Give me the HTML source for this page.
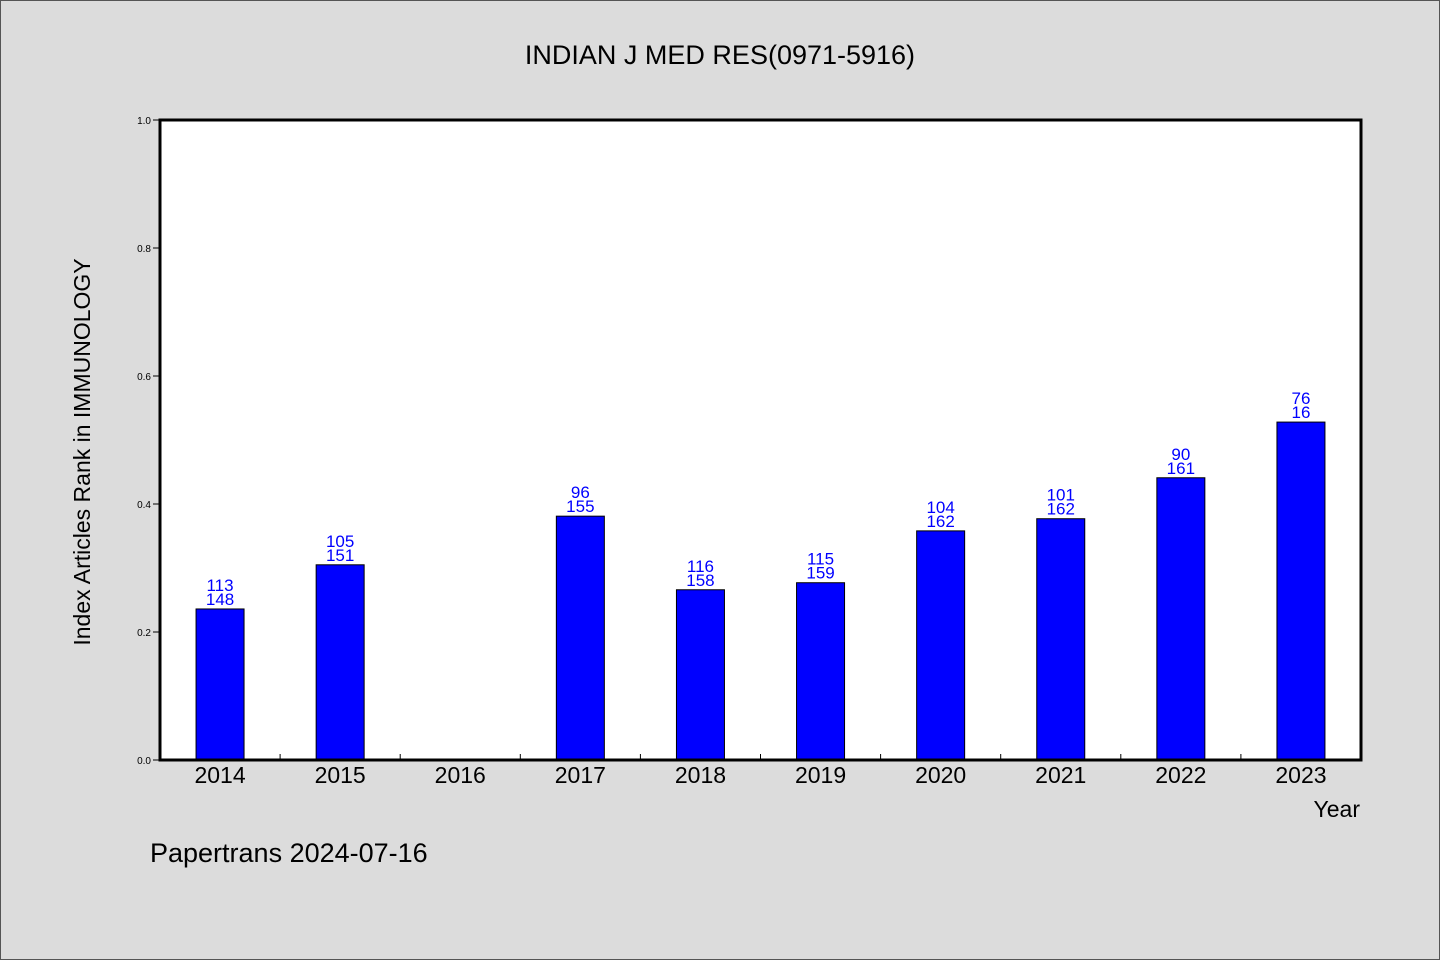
<!DOCTYPE html>
<html><head><meta charset="utf-8"><style>
body{margin:0;background:#dcdcdc;}
svg{display:block;font-family:"WenQuanYi Zen Hei","Liberation Sans",sans-serif;}
</style></head><body>
<svg id="c" width="1440" height="960" xmlns="http://www.w3.org/2000/svg">
<rect x="0.5" y="0.5" width="1439" height="959" fill="#dcdcdc" stroke="#555"/>
<text x="720" y="64" font-size="27" text-anchor="middle" fill="#000">INDIAN J MED RES(0971-5916)</text>
<rect x="160" y="120" width="1201" height="640" fill="#fff"/>
<g id="bars"></g>
<rect x="160" y="120" width="1201" height="640" fill="none" stroke="#000" stroke-width="3"/>
<g id="axes"></g>
<text x="90" y="452" font-size="23" text-anchor="middle" transform="rotate(-90 90 452)">Index Articles Rank in IMMUNOLOGY</text>
<text x="1360" y="817" font-size="23" text-anchor="end">Year</text>
<text x="150" y="862" font-size="27">Papertrans 2024-07-16</text>
</svg>
<script>
const years=["2014","2015","2016","2017","2018","2019","2020","2021","2022","2023"];
const values=[0.236,0.305,null,0.381,0.266,0.277,0.358,0.377,0.441,0.528];
const topLabels=["113","105","","96","116","115","104","101","90","76"];
const bottomLabels=["148","151","","155","158","159","162","162","161","16"];
const yTicks=[0,0.2,0.4,0.6,0.8,1.0];
const NS="http://www.w3.org/2000/svg";
const x0=160,w=1201,y0=760,h=640;
const bw=w/years.length;
const xc=i=>x0+bw*(i+0.5);
const ys=v=>y0-v*h;
const bars=document.getElementById('bars'),axes=document.getElementById('axes');
function mk(tag,at,p){const e=document.createElementNS(NS,tag);for(const k in at)e.setAttribute(k,at[k]);p.appendChild(e);return e;}
years.forEach((yr,i)=>{
  const v=values[i];
  if(v!=null){
    const r=mk('rect',{x:xc(i)-24,y:ys(v),width:48,height:y0-ys(v),fill:'#0000ff',stroke:'#000','stroke-width':1},bars);
    
    
    const t1=mk('text',{x:xc(i),y:ys(v)-18,'font-size':17,'text-anchor':'middle',fill:'#0000ff'},bars);
    t1.textContent=topLabels[i];
    
    
    const t2=mk('text',{x:xc(i),y:ys(v)-4,'font-size':17,'text-anchor':'middle',fill:'#0000ff'},bars);
    t2.textContent=bottomLabels[i];
    
    
  }
  const xl=mk('text',{x:xc(i),y:783,'font-size':23,'text-anchor':'middle',fill:'#000'},axes);
  xl.textContent=yr;
  
  
  if(i>0){
    const tk=mk('line',{x1:x0+bw*i,x2:x0+bw*i,y1:y0,y2:y0-6,stroke:'#000','stroke-width':1},axes);
    
    
  }
});
yTicks.forEach(v=>{
  const tk=mk('line',{x1:153,x2:160,y1:ys(v),y2:ys(v),stroke:'#000','stroke-width':1},axes);
  
  
  const t=mk('text',{x:151,y:ys(v)+4,'font-size':10,'text-anchor':'end',fill:'#000'},axes);
  t.textContent=v.toFixed(1);
  
  
});
</script>
</body></html>
